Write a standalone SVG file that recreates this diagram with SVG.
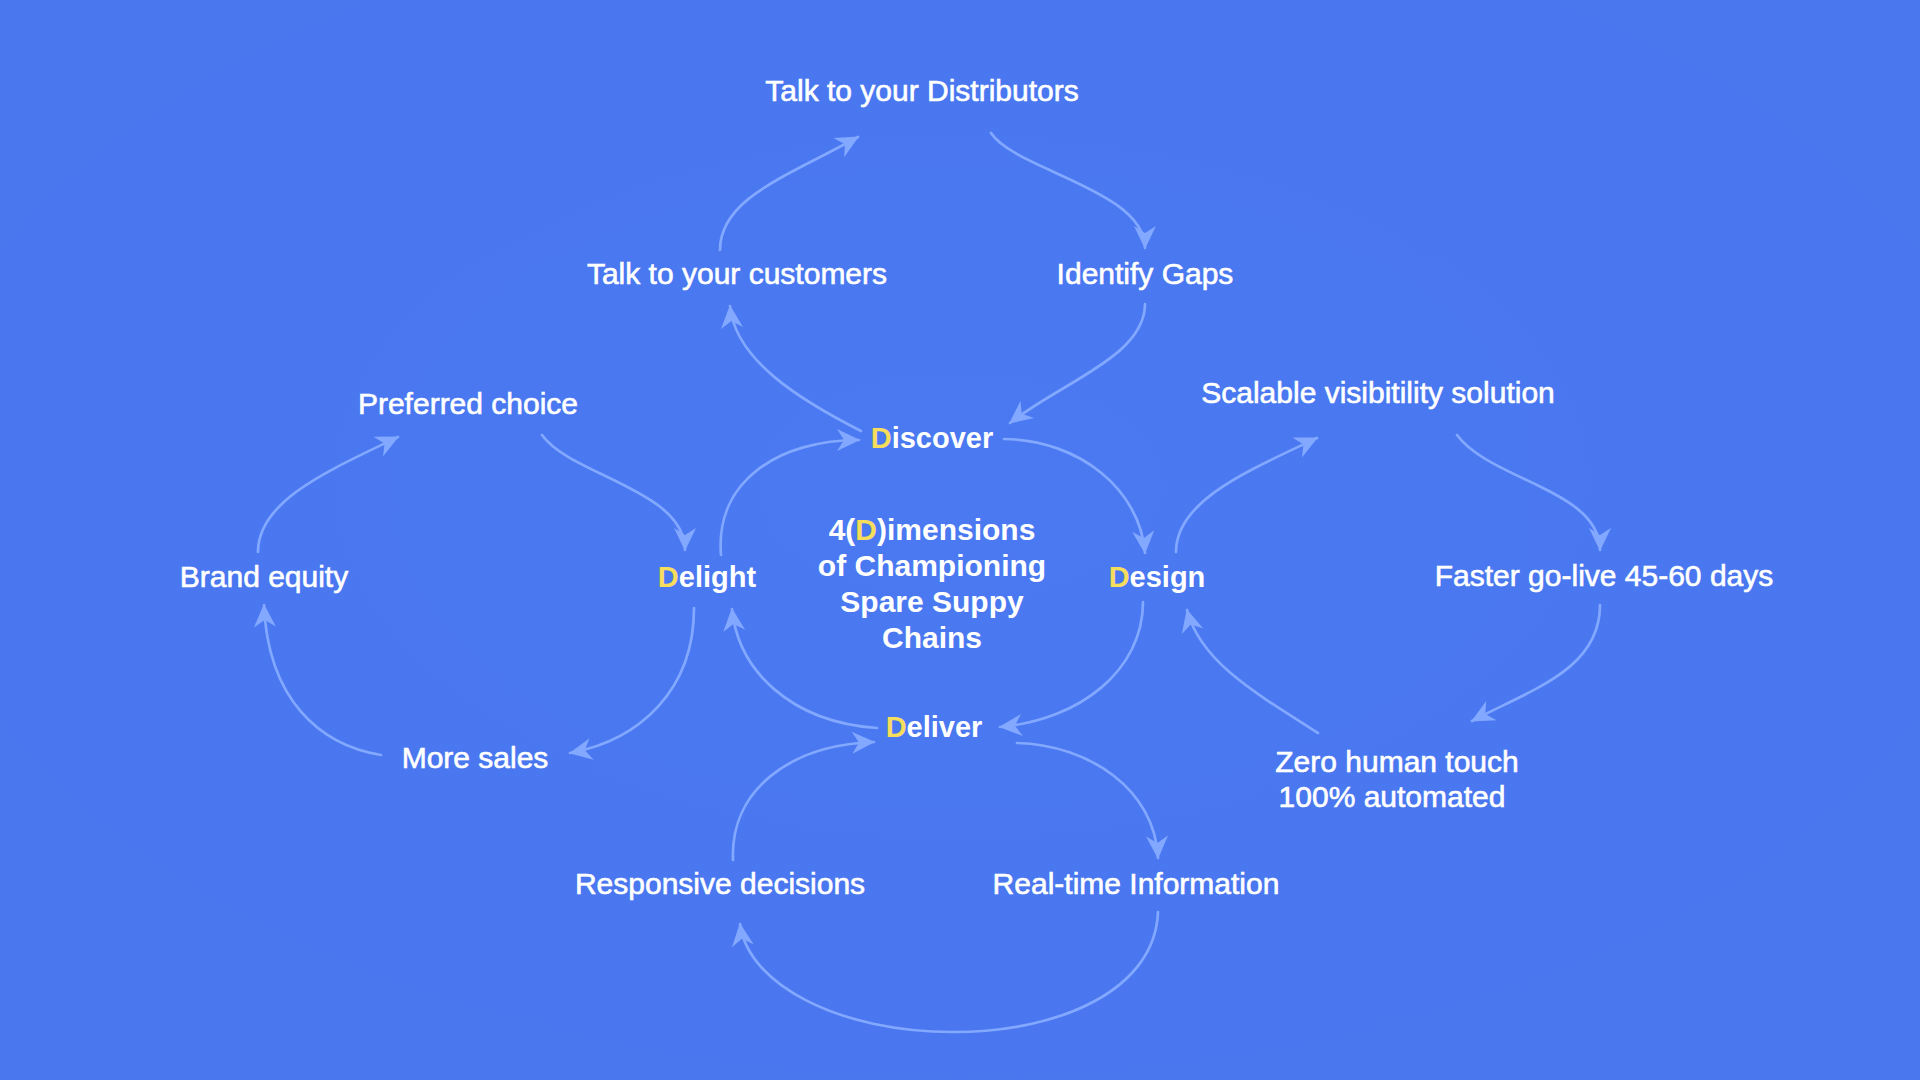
<svg xmlns="http://www.w3.org/2000/svg" width="1920" height="1080" viewBox="0 0 1920 1080">
<defs>
<style>
.t{font-family:"Liberation Sans",Arial,Helvetica,sans-serif;font-size:30px;fill:#ffffff;stroke:#ffffff;stroke-width:0.6px;text-anchor:middle}
.b{font-weight:bold;stroke-width:0}
.d{font-weight:bold;stroke-width:0;font-size:29px}
.y{fill:#f7dd5c;stroke:#f7dd5c}
.c{fill:none;stroke:#82a8ff;stroke-width:2.7px;stroke-linecap:round;marker-end:url(#ah)}
</style>
<marker id="ah" viewBox="-26 -13 28 26" markerWidth="28" markerHeight="26" refX="0" refY="0" orient="auto" markerUnits="userSpaceOnUse">
<path d="M1,0 L-22,-11 L-15,0 L-22,11 Z" fill="#82a8ff"/>
</marker>
<radialGradient id="bg" cx="50%" cy="45%" r="75%">
<stop offset="0" stop-color="#4a79f1"/>
<stop offset="1" stop-color="#4a76ee"/>
</radialGradient>
</defs>
<rect width="1920" height="1080" fill="url(#bg)"/>
<g id="connectors">
<path class="c" d="M720 250 C720 198 788 176 858 137"/>
<path class="c" d="M991 133 C1015 170 1145 190 1145 248"/>
<path class="c" d="M1145 304 C1145 356 1062 382 1010 423"/>
<path class="c" d="M861 431 C800 400 735 360 730 306"/>
<path class="c" d="M721 555 C715 480 780 440 859 440"/>
<path class="c" d="M1004 439 C1080 440 1140 490 1145 553"/>
<path class="c" d="M1143 602 C1143 670 1080 720 1000 727"/>
<path class="c" d="M877 728 C790 722 738 670 732 609"/>
<path class="c" d="M694 608 C694 690 640 740 570 753"/>
<path class="c" d="M258 552 C258 500 330 470 398 437"/>
<path class="c" d="M542 435 C570 475 685 490 685 550"/>
<path class="c" d="M381 755 C320 745 268 700 264 605"/>
<path class="c" d="M1176 552 C1176 500 1250 470 1317 438"/>
<path class="c" d="M1457 435 C1490 480 1600 490 1600 550"/>
<path class="c" d="M1600 605 C1600 670 1530 690 1472 721"/>
<path class="c" d="M1318 733 C1250 690 1200 660 1187 610"/>
<path class="c" d="M733 860 C730 790 790 745 874 742"/>
<path class="c" d="M1017 743 C1090 745 1155 790 1158 858"/>
<path class="c" d="M1158 912 C1155 990 1060 1032 953 1032 C840 1032 748 985 740 924"/>
</g>
<g id="center"><text class="t b" x="932" y="540">4(<tspan class="y">D</tspan>)imensions</text><text class="t b" x="932" y="576">of Championing</text><text class="t b" x="932" y="612">Spare Suppy</text><text class="t b" x="932" y="648">Chains</text></g>
<g id="discover"><text class="t d" x="932" y="448"><tspan class="y">D</tspan>iscover</text></g>
<g id="design"><text class="t d" x="1157" y="587"><tspan class="y">D</tspan>esign</text></g>
<g id="deliver"><text class="t d" x="934" y="737"><tspan class="y">D</tspan>eliver</text></g>
<g id="delight"><text class="t d" x="707" y="587"><tspan class="y">D</tspan>elight</text></g>
<g id="distributors"><text class="t" x="922" y="101">Talk to your Distributors</text></g>
<g id="customers"><text class="t" x="737" y="284">Talk to your customers</text></g>
<g id="gaps"><text class="t" x="1145" y="284">Identify Gaps</text></g>
<g id="preferred"><text class="t" x="468" y="414">Preferred choice</text></g>
<g id="brand"><text class="t" x="264" y="587">Brand equity</text></g>
<g id="sales"><text class="t" x="475" y="768">More sales</text></g>
<g id="scalable"><text class="t" x="1378" y="403">Scalable visibitility solution</text></g>
<g id="faster"><text class="t" x="1604" y="586">Faster go-live 45-60 days</text></g>
<g id="zero"><text class="t" x="1397" y="772">Zero human touch</text><text class="t" x="1392" y="807">100% automated</text></g>
<g id="responsive"><text class="t" x="720" y="894">Responsive decisions</text></g>
<g id="realtime"><text class="t" x="1136" y="894">Real-time Information</text></g>
</svg>
